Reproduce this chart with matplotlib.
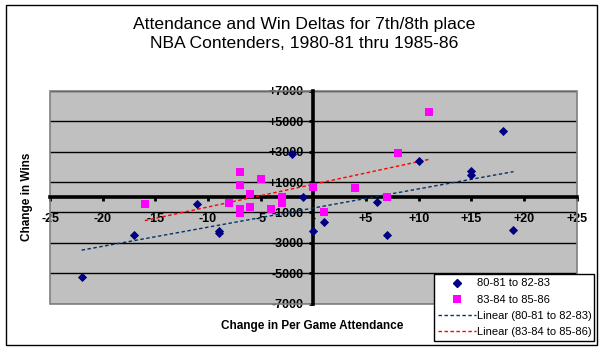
import numpy as np
import matplotlib
matplotlib.use('Agg')
import matplotlib.pyplot as plt
from matplotlib.patches import Rectangle
from matplotlib.lines import Line2D

plt.rcParams['font.family'] = ['Liberation Sans', 'DejaVu Sans']

# ---- data ----
series1_label = '80-81 to 82-83'
s1_att = [-22, -17, -11, -9, -9, -2, -1, 0, 1, 6, 7, 10, 15, 15, 18, 19]
s1_wins = [-5250, -2500, -450, -2200, -2350, 2850, 0, -2200, -1600, -300, -2500, 2350, 1700, 1450, 4350, -2150]

series2_label = '83-84 to 85-86'
s2_att = [-16, -8, -7, -7, -7, -7, -6, -6, -5, -4, -3, -3, 0, 1, 4, 7, 8, 11]
s2_wins = [-450, -400, 1680, 790, -790, -1050, 215, -660, 1220, -790, 0, -350, 660, -1000, 600, 0, 2900, 5600]

x_ticks = [-25, -20, -15, -10, -5, 0, 5, 10, 15, 20, 25]
x_tick_labels = ['-25', '-20', '-15', '-10', '-5', '-', '+5', '+10', '+15', '+20', '+25']
y_ticks = [-7000, -5000, -3000, -1000, 1000, 3000, 5000, 7000]
y_tick_labels = ['-7000', '-5000', '-3000', '-1000', '+1000', '+3000', '+5000', '+7000']

title = 'Attendance and Win Deltas for 7th/8th place\nNBA Contenders, 1980-81 thru 1985-86'
xlabel = 'Change in Per Game Attendance'
ylabel = 'Change in Wins'

W, H = 600, 352
fig = plt.figure(figsize=(W / 100, H / 100), dpi=100)
fig.patch.set_facecolor('white')

ax = fig.add_axes([50 / W, 1 - 303.8 / H, 526.7 / W, 213.1 / H])
ax.set_facecolor('#C0C0C0')
ax.set_xlim(-25, 25)
ax.set_ylim(-7000, 7000)

for side in ('top', 'right'):
    ax.spines[side].set_visible(False)
for side in ('left', 'bottom'):
    ax.spines[side].set_position(('data', 0))
    ax.spines[side].set_linewidth(2.6)
    ax.spines[side].set_color('black')
    ax.spines[side].set_zorder(2.6)

ax.add_patch(Rectangle((0, 0), 1, 1, transform=ax.transAxes, fill=False,
                       edgecolor='#808080', lw=1.2, zorder=2.4, clip_on=False))

ax.set_xticks(x_ticks)
ax.set_xticklabels(x_tick_labels, fontsize=9, fontweight='bold')
ax.set_yticks(y_ticks)
ax.set_yticklabels(y_tick_labels, fontsize=9, fontweight='bold')
ax.tick_params(axis='x', direction='out', length=3, width=2, pad=8, color='black')
ax.tick_params(axis='y', direction='out', length=3, width=2, pad=4, color='black')

ax.yaxis.grid(True, color='black', lw=1)
ax.xaxis.grid(False)
ax.set_axisbelow(True)

navy = '#000080'
pink = '#FF00FF'
blue_trend = '#003366'
red_trend = '#FF0000'

ax.plot(s1_att, s1_wins, linestyle='none', marker='D', markersize=4.4,
        color=navy, markeredgewidth=0.6, zorder=4)
ax.plot(s2_att, s2_wins, linestyle='none', marker='s', markersize=5.6,
        color=pink, markeredgewidth=0, zorder=4)

# linear trendlines (least-squares fits over each series' x range)
def trend(xs, ys):
    xs = np.asarray(xs, float)
    ys = np.asarray(ys, float)
    m, b = np.polyfit(xs, ys, 1)
    xx = np.array([xs.min(), xs.max()])
    return xx, m * xx + b

tx1, ty1 = trend(s1_att, s1_wins)
tx2, ty2 = trend(s2_att, s2_wins)
ax.plot(tx1, ty1, color=blue_trend, lw=1, dashes=[2.5, 1.8], zorder=3.5)
ax.plot(tx2, ty2, color=red_trend, lw=1, dashes=[2.5, 1.8], zorder=3.5)

fig.text(304 / W, 1 - 34 / H, title, ha='center', va='center', fontsize=12.6,
         linespacing=1.3)
fig.text(312.5 / W, 1 - 325.7 / H, xlabel, ha='center', va='center',
         fontsize=8.5, fontweight='bold')
fig.text(27.5 / W, 1 - 197.3 / H, ylabel, ha='center', va='center',
         fontsize=8.5, fontweight='bold', rotation=90)

fig.add_artist(Rectangle((6 / W, 7 / H), 591 / W, 340 / H, transform=fig.transFigure,
                         fill=False, edgecolor='black', lw=1))

handles = [
    Line2D([], [], linestyle='none', marker='D', markersize=4.4, color=navy),
    Line2D([], [], linestyle='none', marker='s', markersize=5.6, color=pink, markeredgewidth=0),
    Line2D([], [], color=blue_trend, lw=1, dashes=[2.5, 1.8]),
    Line2D([], [], color=red_trend, lw=1, dashes=[2.5, 1.8]),
]
labels = [series1_label, series2_label,
          'Linear (' + series1_label + ')', 'Linear (' + series2_label + ')']
leg = ax.legend(handles, labels, loc='upper left',
                bbox_to_anchor=(434 / W, 1 - 274 / H, 160 / W, 0),
                bbox_transform=fig.transFigure, mode='expand', borderaxespad=0,
                fontsize=8, frameon=True, fancybox=False, edgecolor='black',
                framealpha=1, handlelength=3.4, handletextpad=0.1,
                labelspacing=0.55, borderpad=0.4)
leg.get_frame().set_linewidth(1)
leg.set_zorder(10)

fig.savefig('out.png', dpi=100)
